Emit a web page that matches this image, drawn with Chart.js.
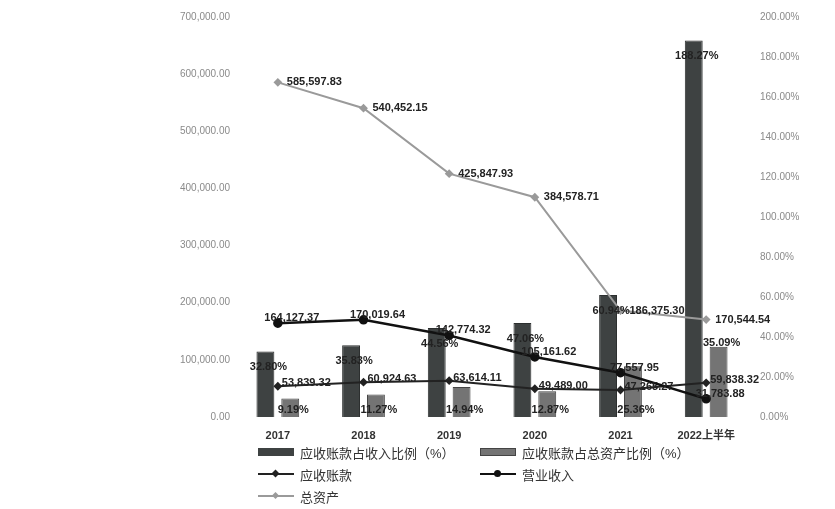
<!DOCTYPE html>
<html lang="zh-CN">
<head>
<meta charset="UTF-8">
<title>应收账款情况</title>
<script src="https://cdn.jsdelivr.net/npm/chart.js"></script>
<style>
  body { margin: 0; background: #fff; font-family: "Liberation Sans", "Noto Sans CJK SC", sans-serif; }
  #wrap { position: relative; width: 835px; height: 509px; }
  #legend {
    position: absolute; left: 258px; top: 444px;
    display: grid; grid-template-columns: 222px 240px; row-gap: 6px;
    font-size: 13px; color: #333;
  }
  .item { display: flex; align-items: center; height: 16px; }
  .sw { width: 36px; margin-right: 6px; position: relative; height: 10px; }
  .box { height: 8px; margin-top: 1px; }
  .ln { position: absolute; left: 0; right: 0; top: 4px; height: 2px; }
  .mk { position: absolute; left: 14px; top: 1px; width: 7px; height: 7px; }
</style>
</head>
<body>
<div id="wrap">
  <canvas id="myChart" width="835" height="509"></canvas>
  <div id="legend">
    <div class="item"><div class="sw"><div class="box" style="background:#3e4242"></div></div>应收账款占收入比例（%）</div>
    <div class="item"><div class="sw"><div class="box" style="background:#747474;border:1px solid #444;height:6px"></div></div>应收账款占总资产比例（%）</div>
    <div class="item"><div class="sw"><div class="ln" style="background:#222"></div><div class="mk" style="background:#222;transform:rotate(45deg) scale(0.8)"></div></div>应收账款</div>
    <div class="item"><div class="sw"><div class="ln" style="background:#111"></div><div class="mk" style="background:#111;border-radius:50%"></div></div>营业收入</div>
    <div class="item"><div class="sw"><div class="ln" style="background:#9a9a9a"></div><div class="mk" style="background:#9a9a9a;transform:rotate(45deg) scale(0.7)"></div></div>总资产</div>
  </div>
</div>

<script>
    // 数据
    const years = ['2017', '2018', '2019', '2020', '2021', '2022上半年'];
    const ratioToRevenue = [32.80, 35.83, 44.56, 47.06, 60.94, 188.27];
    const ratioToAssets = [9.19, 11.27, 14.94, 12.87, 25.36, 35.09];
    const receivables = [53839.32, 60924.63, 63614.11, 49489.00, 47265.27, 59838.32];
    const revenue = [164127.37, 170019.64, 142774.32, 105161.62, 77557.95, 31783.88];
    const totalAssets = [585597.83, 540452.15, 425847.93, 384578.71, 186375.30, 170544.54];

    const FONT = '"Liberation Sans", "Noto Sans CJK SC", sans-serif';

    function money(v) {
        return v.toLocaleString('en-US', { minimumFractionDigits: 2, maximumFractionDigits: 2 });
    }

    // 数据标签（没有 datalabels 插件，自己画）
    const valueLabels = {
        id: 'valueLabels',
        afterDatasetsDraw(chart) {
            const ctx = chart.ctx;
            ctx.save();
            ctx.font = 'bold 11px ' + FONT;
            ctx.fillStyle = '#222';
            ctx.textBaseline = 'middle';
            chart.data.datasets.forEach((ds, i) => {
                const meta = chart.getDatasetMeta(i);
                meta.data.forEach((el, j) => {
                    const v = ds.data[j];
                    if (ds.tag === 'barTop') {
                        ctx.textAlign = 'center';
                        ctx.fillText(v.toFixed(2) + '%', el.x + 3, el.y + 16);
                    } else if (ds.tag === 'barBase') {
                        ctx.textAlign = 'center';
                        // 高的柱子标签放在顶上
                        const y = (el.base - el.y > 55) ? el.y - 4 : el.base - 7;
                        ctx.fillText(v.toFixed(2) + '%', el.x + 3, y);
                    } else if (ds.tag === 'assets') {
                        ctx.textAlign = 'left';
                        ctx.fillText(money(v), el.x + 9, el.y);
                    } else if (ds.tag === 'revenue') {
                        ctx.textAlign = 'center';
                        ctx.fillText(money(v), el.x + 14, el.y - 5);
                    } else if (ds.tag === 'recv') {
                        ctx.textAlign = 'left';
                        ctx.fillText(money(v), el.x + 4, el.y - 3);
                    }
                });
            });
            ctx.restore();
        }
    };

    function createChart() {
        const ctx = document.getElementById('myChart').getContext('2d');

        new Chart(ctx, {
            type: 'bar',
            data: {
                labels: years,
                datasets: [
                    {
                        type: 'line', label: '总资产', tag: 'assets', data: totalAssets, yAxisID: 'y', order: 0,
                        borderColor: '#9a9a9a', backgroundColor: '#9a9a9a', borderWidth: 2,
                        pointStyle: 'rectRot', pointRadius: 3
                    },
                    {
                        type: 'line', label: '营业收入', tag: 'revenue', data: revenue, yAxisID: 'y', order: 0,
                        borderColor: '#111', backgroundColor: '#111', borderWidth: 2.5,
                        pointStyle: 'circle', pointRadius: 3.5
                    },
                    {
                        type: 'line', label: '应收账款', tag: 'recv', data: receivables, yAxisID: 'y', order: 0,
                        borderColor: '#222', backgroundColor: '#222', borderWidth: 2,
                        pointStyle: 'rectRot', pointRadius: 3
                    },
                    {
                        label: '应收账款占收入比例（%）', tag: 'barTop', data: ratioToRevenue, yAxisID: 'y1', order: 1,
                        backgroundColor: '#3e4242', borderColor: '#2c2f2f', borderWidth: 1,
                        categoryPercentage: 0.58, barPercentage: 0.72
                    },
                    {
                        label: '应收账款占总资产比例（%）', tag: 'barBase', data: ratioToAssets, yAxisID: 'y1', order: 1,
                        backgroundColor: '#747474', borderColor: '#444', borderWidth: 1,
                        categoryPercentage: 0.58, barPercentage: 0.72
                    }
                ]
            },
            options: {
                responsive: false,
                animation: false,
                layout: { padding: { top: 15, left: 0, right: 0, bottom: 0 } },
                plugins: {
                    legend: { display: false },
                    tooltip: { enabled: false }
                },
                scales: {
                    x: {
                        grid: { display: false, drawTicks: false },
                        border: { display: false },
                        ticks: { color: '#333', font: { size: 11, weight: 'bold', family: FONT }, padding: 12 },
                        afterFit(s) { s.height = 92; }
                    },
                    y: {
                        position: 'left', min: 0, max: 700000,
                        grid: { display: false, drawTicks: false },
                        border: { display: false },
                        ticks: {
                            stepSize: 100000, padding: 5, color: '#8a8a8a',
                            font: { size: 10, family: FONT },
                            callback: v => money(v)
                        },
                        afterFit(s) { s.width = 235; }
                    },
                    y1: {
                        position: 'right', min: 0, max: 200,
                        grid: { display: false, drawTicks: false },
                        border: { display: false },
                        ticks: {
                            stepSize: 20, padding: 11, color: '#8a8a8a',
                            font: { size: 10, family: FONT },
                            callback: v => v.toFixed(2) + '%'
                        },
                        afterFit(s) { s.width = 86; }
                    }
                }
            },
            plugins: [valueLabels]
        });
    }

    document.addEventListener('DOMContentLoaded', createChart);
</script>
</body>
</html>
